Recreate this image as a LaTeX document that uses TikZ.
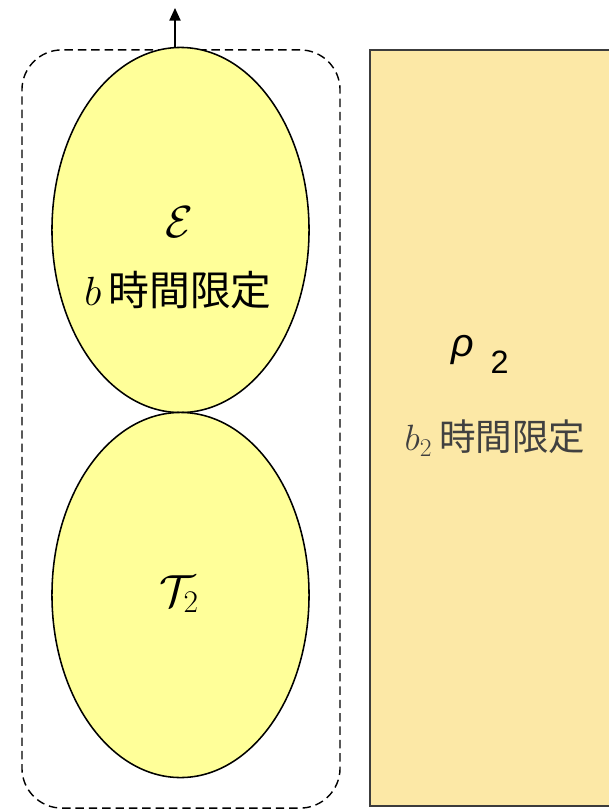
\documentclass[tikz,border=0pt]{standalone}
\usepackage{fix-cm}
\usepackage{fontspec}
\usepackage{amsmath}
\newfontfamily\jpfont{Noto Sans CJK JP}
\newfontfamily\arialfont{Liberation Sans}
\usetikzlibrary{positioning,arrows.meta,shapes.geometric,fit,backgrounds}

\definecolor{bubblefill}{HTML}{FFFF99}
\definecolor{stagefill}{HTML}{FCE8A6}
\definecolor{stageline}{HTML}{3C3C3C}

\begin{document}
\begin{tikzpicture}[
  x=0.025cm, y=-0.025cm, >={Triangle[length=9pt,width=8pt]},
  bubble/.style={draw, ellipse, fill=bubblefill, line width=1.1pt, inner sep=0pt,
                 minimum width=6.425cm, minimum height=9.125cm},
  group/.style={draw, dash pattern=on 6pt off 3.5pt, line width=1pt,
                rounded corners=1cm, minimum width=7.95cm, minimum height=18.95cm},
  stage/.style={draw=stageline, fill=stagefill, line width=1.3pt,
                minimum width=6.125cm, minimum height=18.9cm},
  big/.style={font=\fontsize{32}{36}\selectfont, inner sep=0pt},
  limit/.style={font=\fontsize{29}{34}\selectfont, inner sep=0pt},
]
\useasboundingbox (0,0) rectangle (609,810);

\node[group] (box) at (181,429) {};
\node[stage] (state) at (492.5,428) {};

\node[bubble] (env) at (180.5,230) {};
\node[bubble] (task) at (180.5,595) {};

\node[big] (envname) at (179,222) {$\mathcal{E}$};
\node[limit] (envlimit) at (178,290) {$b$\hspace{5pt}\jpfont 時間限定};
\node[big] (taskname) at (179,594) {$\mathcal{T}_2$};

\node[anchor=base west, inner sep=0pt, font=\fontsize{28}{32}\arialfont] (rho) at (451,356)
  {\itshape ρ\hspace{12pt}\upshape\raisebox{-12.5pt}{\fontsize{23}{26}\selectfont 2}};
\node[limit, text=black!75, font=\fontsize{26}{30}\selectfont] (statelimit) at (495,438)
  {$b_2$\hspace{5pt}\jpfont 時間限定};

\coordinate (out) at (175,8);
\draw[->, line width=1pt] (env.north -| out) -- (out);
\end{tikzpicture}
\end{document}
